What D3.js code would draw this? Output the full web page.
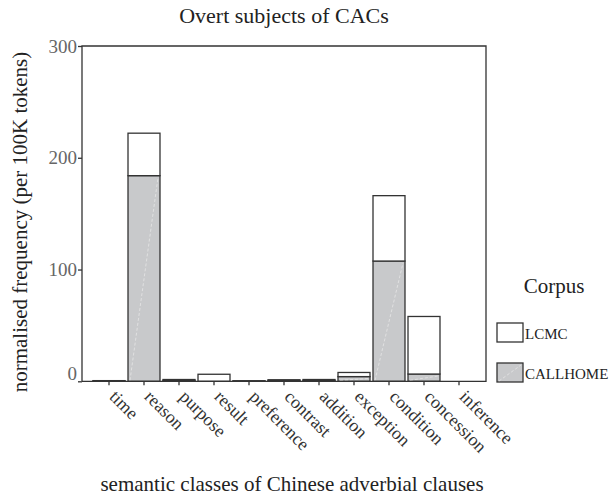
<!DOCTYPE html>
<html>
<head>
<meta charset="utf-8">
<script src="https://cdn.jsdelivr.net/npm/d3@7"></script>
<style>
  body { margin: 0; background: #fff; }
  text { font-family: "Liberation Serif", "DejaVu Serif", serif; }
</style>
</head>
<body>
<svg width="613" height="497"></svg>
<script>
var categories = ["time","reason","purpose","result","preference","contrast","addition","exception","condition","concession","inference"];
var callhome = [0.3, 184, 0.8, 0, 0.2, 0.6, 0.8, 4.2, 107.6, 6.5, 0];
var lcmc     = [0.3, 38, 0.8, 6.3, 0.3, 0.8, 0.8, 3.7, 58.5, 51.5, 0];
var yTicks = [0, 100, 200, 300];
var keys = ["CALLHOME", "LCMC"];

var svg = d3.select("svg");
var plotLeft = 82, plotRight = 486, plotTop = 46, plotBottom = 381.3;

var rows = categories.map(function(c, i) {
  return { cat: c, CALLHOME: callhome[i], LCMC: lcmc[i] };
});

var x = d3.scaleBand().domain(categories).range([91.5, 476.5])
    .paddingInner(0.086).paddingOuter(0.043);
var y = d3.scaleLinear().domain([0, 300]).range([plotBottom, plotTop]);
var fills = { CALLHOME: "#c8c9cb", LCMC: "#ffffff" };

var stacked = d3.stack().keys(keys)(rows);

// bars
var layer = svg.append("g").selectAll("g")
    .data(stacked)
    .enter().append("g")
    .attr("fill", function(d) { return fills[d.key]; });

layer.selectAll("rect")
    .data(function(d) { return d; })
    .enter().append("rect")
    .attr("x", function(d) { return x(d.data.cat); })
    .attr("width", x.bandwidth())
    .attr("y", function(d) { return y(d[1]); })
    .attr("height", function(d) { return y(d[0]) - y(d[1]); })
    .attr("stroke", "#333")
    .attr("stroke-width", 1.3);

// faint diagonal on the grey part
svg.append("g").selectAll("line")
    .data(stacked[0].filter(function(d) { return d[1] - d[0] > 3; }))
    .enter().append("line")
    .attr("x1", function(d) { return x(d.data.cat) + 2; })
    .attr("y1", function(d) { return y(d[0]) - 1; })
    .attr("x2", function(d) { return x(d.data.cat) + x.bandwidth() - 2; })
    .attr("y2", function(d) { return y(d[1]) + 2; })
    .attr("stroke", "#e6e6e6")
    .attr("stroke-width", 0.8)
    .attr("stroke-dasharray", "3,2");

// frame
svg.append("path")
    .attr("d", "M" + plotLeft + "," + plotBottom + "V" + plotTop + "H" + plotRight + "V" + plotBottom + "H" + plotLeft)
    .attr("stroke", "#333").attr("stroke-width", 1.3).attr("fill", "none");

// y axis
var yAxis = svg.append("g").attr("transform", "translate(" + plotLeft + ",0)")
    .call(d3.axisLeft(y).tickValues(yTicks).tickSize(4).tickPadding(1));
yAxis.select(".domain").remove();
yAxis.selectAll("line").attr("stroke", "#333").attr("stroke-width", 1.3);
yAxis.selectAll("text")
    .attr("font-family", "Liberation Serif, serif")
    .attr("font-size", 19)
    .attr("fill", "#666")
    .attr("dy", function(d) { return d === 0 ? "-0.1em" : "0.32em"; });

// x axis
var xAxis = svg.append("g").attr("transform", "translate(0," + plotBottom + ")")
    .call(d3.axisBottom(x).tickSize(4).tickSizeOuter(0));
xAxis.select(".domain").remove();
xAxis.selectAll("line").attr("stroke", "#333").attr("stroke-width", 1.3);
xAxis.selectAll("text")
    .attr("font-family", "Liberation Serif, serif")
    .attr("font-size", 18)
    .attr("fill", "#333")
    .attr("text-anchor", "start")
    .attr("dy", "0.35em")
    .attr("transform", "translate(4,12) rotate(45)")
    .attr("y", 0).attr("x", 0);

// titles
svg.append("text")
    .attr("x", (plotLeft + plotRight) / 2)
    .attr("y", 23)
    .attr("text-anchor", "middle")
    .style("font-size", "22px")
    .attr("fill", "#222")
    .text("Overt subjects of CACs");

svg.append("text")
    .attr("x", 292)
    .attr("y", 491)
    .attr("text-anchor", "middle")
    .style("font-size", "21px")
    .attr("fill", "#222")
    .text("semantic classes of Chinese adverbial clauses");

svg.append("text")
    .attr("transform", "translate(27,222) rotate(-90)")
    .attr("text-anchor", "middle")
    .style("font-size", "21px")
    .attr("fill", "#222")
    .text("normalised frequency (per 100K tokens)");

// legend
svg.append("text")
    .attr("x", 554)
    .attr("y", 293)
    .attr("text-anchor", "middle")
    .style("font-size", "21px")
    .attr("fill", "#222")
    .text("Corpus");

var legendKeys = ["LCMC", "CALLHOME"];
var leg = svg.append("g").selectAll("g")
    .data(legendKeys)
    .enter().append("g")
    .attr("transform", function(d, i) { return "translate(497," + (323 + i * 40) + ")"; });

leg.append("rect")
    .attr("width", 26).attr("height", 19)
    .attr("fill", function(d) { return fills[d]; })
    .attr("stroke", "#333").attr("stroke-width", 1.3);

leg.filter(function(d) { return d === "CALLHOME"; }).append("line")
    .attr("x1", 2).attr("y1", 18).attr("x2", 24).attr("y2", 2)
    .attr("stroke", "#e6e6e6").attr("stroke-width", 0.8).attr("stroke-dasharray", "3,2");

leg.append("text")
    .attr("x", 28).attr("y", 16)
    .style("font-size", "15px")
    .attr("fill", "#222")
    .text(function(d) { return d; });
</script>
</body>
</html>
